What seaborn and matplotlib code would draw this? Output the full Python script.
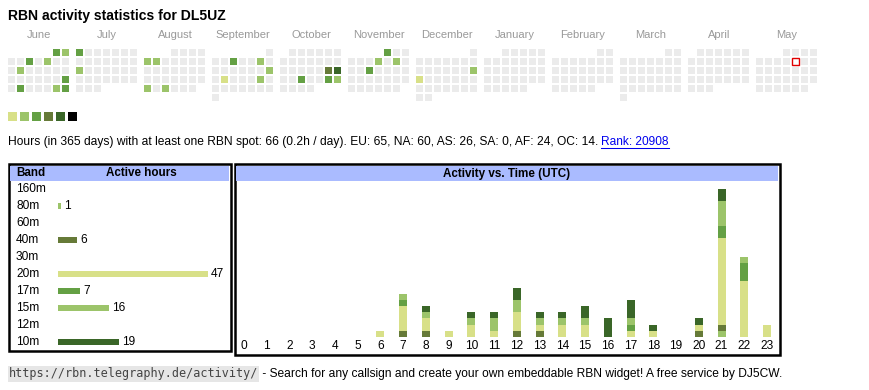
import datetime as dt

import matplotlib
matplotlib.use("Agg")
import matplotlib.pyplot as plt
from matplotlib.colors import ListedColormap
from matplotlib.patches import Rectangle
import numpy as np
import pandas as pd
import seaborn as sns

plt.rcParams["font.family"] = ["Liberation Sans", "DejaVu Sans"]

W, H = 870, 390

# --- calendar data ---
months = ["June", "July", "August", "September", "October", "November",
          "December", "January", "February", "March", "April", "May"]
month_starts = ["2024-06-01", "2024-07-01", "2024-08-01", "2024-09-01",
                "2024-10-01", "2024-11-01", "2024-12-01", "2025-01-01",
                "2025-02-01", "2025-03-01", "2025-04-01", "2025-05-01"]
active_days = ["2024-06-01", "2024-06-02", "2024-06-05", "2024-06-07",
               "2024-06-11", "2024-06-23", "2024-06-25", "2024-06-29",
               "2024-06-30", "2024-07-01", "2024-07-15", "2024-08-05",
               "2024-08-06", "2024-08-26", "2024-08-28", "2024-09-04",
               "2024-09-07", "2024-09-15", "2024-09-17", "2024-09-21",
               "2024-10-19", "2024-10-20", "2024-10-23", "2024-10-26",
               "2024-10-27", "2024-11-01", "2024-11-07", "2024-11-09",
               "2024-11-13", "2024-12-15", "2024-12-16"]
active_levels = [3, 2, 3, 2, 2, 3, 3, 2, 3,
                 3, 2,
                 2, 2, 2, 2,
                 3, 2, 2, 1, 2,
                 4, 5, 3, 3, 2,
                 3, 2, 2, 3,
                 2, 1]
today = "2025-05-09"

# --- band data ---
bands = ["160m", "80m", "60m", "40m", "30m", "20m", "17m", "15m", "12m", "10m"]
band_hours = [0, 1, 0, 6, 0, 47, 7, 16, 0, 19]

hours = list(range(24))
hourly_80m = [0, 0, 0, 0, 0, 0, 0, 0, 0, 0, 0, 0, 0, 0, 0, 0, 0, 0, 0, 0, 0, 1, 0, 0]
hourly_40m = [0, 0, 0, 0, 0, 0, 0, 1, 1, 0, 0, 0, 1, 1, 0, 0, 0, 0, 0, 0, 1, 1, 0, 0]
hourly_20m = [0, 0, 0, 0, 0, 0, 1, 4, 2, 1, 2, 1, 3, 1, 2, 2, 0, 1, 1, 0, 1, 14, 9, 2]
hourly_17m = [0, 0, 0, 0, 0, 0, 0, 1, 0, 0, 0, 0, 0, 0, 0, 0, 0, 1, 0, 0, 0, 2, 3, 0]
hourly_15m = [0, 0, 0, 0, 0, 0, 0, 1, 1, 0, 1, 2, 2, 1, 1, 1, 0, 1, 0, 0, 0, 4, 1, 0]
hourly_10m = [0, 0, 0, 0, 0, 0, 0, 0, 1, 0, 1, 1, 2, 1, 1, 2, 3, 3, 1, 0, 1, 2, 0, 0]

# --- colours ---
GRAY = "#ebebeb"
YELLOW = "#d8e088"
LGREEN = "#9cc46a"
GREEN = "#64a044"
OLIVE = "#667a38"
DGREEN = "#3a6628"
level_colors = [YELLOW, LGREEN, GREEN, OLIVE, DGREEN, "#000000"]
band_palette = {"160m": GRAY, "80m": LGREEN, "60m": GRAY, "40m": OLIVE,
                "30m": GRAY, "20m": YELLOW, "17m": GREEN, "15m": LGREEN,
                "12m": GRAY, "10m": DGREEN}
HEAD_BLUE = "#aabbff"

fig = plt.figure(figsize=(W / 100, H / 100), dpi=100)


def px_axes(x, y, w, h):
    return fig.add_axes([x / W, 1 - (y + h) / H, w / W, h / H])


over = fig.add_axes([0, 0, 1, 1])
over.set_xlim(0, W)
over.set_ylim(H, 0)
over.axis("off")

over.text(8, 16, "RBN activity statistics for DL5UZ", fontsize=10.1,
          fontweight="bold", va="center")

# --- calendar heatmaps ---
level_by_day = dict(zip(active_days, active_levels))
cal_cmap = ListedColormap([GRAY] + level_colors)


def month_grid(start):
    first = dt.date.fromisoformat(start)
    nxt = (first.replace(day=28) + dt.timedelta(days=4)).replace(day=1)
    grid = np.full((6, 7), np.nan)
    d = first
    while d < nxt:
        row = (d.day - 1 + first.weekday()) // 7
        grid[row, d.weekday()] = level_by_day.get(d.isoformat(), 0)
        d += dt.timedelta(days=1)
    return grid


today_d = dt.date.fromisoformat(today)
for i, (name, start) in enumerate(zip(months, month_starts)):
    x0 = 8 + 68 * i
    ax = px_axes(x0 - 1, 47.7, 63, 54)
    grid = month_grid(start)
    sns.heatmap(grid, ax=ax, cmap=cal_cmap, vmin=-0.5, vmax=6.5, cbar=False,
                mask=np.isnan(grid), linewidths=1.44, linecolor="white",
                xticklabels=False, yticklabels=False)
    first = dt.date.fromisoformat(start)
    if (today_d.year, today_d.month) == (first.year, first.month):
        r = (today_d.day - 1 + first.weekday()) // 7
        c = today_d.weekday()
        ax.add_patch(Rectangle((c + 0.13, r + 0.13), 0.74, 0.74,
                               facecolor="white", edgecolor="#e00000", lw=1.0))
    over.text(x0 + 31, 34.5, name, color="#999999", fontsize=8, ha="center",
              va="center")

# legend squares
ax_leg = px_axes(6.5, 109.5, 72, 12)
sns.heatmap([[1, 2, 3, 4, 5, 6]], ax=ax_leg, cmap=cal_cmap, vmin=-0.5,
            vmax=6.5, cbar=False, linewidths=2.16, linecolor="white",
            xticklabels=False, yticklabels=False)

# --- summary line ---
summary = ("Hours (in 365 days) with at least one RBN spot: 66 (0.2h / day). "
           "EU: 65, NA: 60, AS: 26, SA: 0, AF: 24, OC: 14.")
t_sum = over.text(8, 142, summary, fontsize=8.65, va="center")

# --- panels ---
for (x, y, w, h) in [(9.25, 164.25, 221.5, 186.5), (235.25, 164.25, 544.5, 190.5)]:
    over.add_patch(Rectangle((x, y), w, h, fill=False, edgecolor="black", lw=1.8))
over.add_patch(Rectangle((10.5, 165.5), 219, 15.5, facecolor=HEAD_BLUE, lw=0))
over.add_patch(Rectangle((236.5, 165.5), 542, 15.5, facecolor=HEAD_BLUE, lw=0))
over.text(16, 173.5, "Band", fontsize=8.4, fontweight="bold", va="center")
over.text(141.5, 173.5, "Active hours", fontsize=8.4, fontweight="bold",
          va="center", ha="center")
over.text(507, 173.5, "Activity vs. Time (UTC)", fontsize=8.4,
          fontweight="bold", va="center", ha="center")

# band bars
ax_b = px_axes(58, 180.5, 160, 170)
sns.barplot(x=band_hours, y=bands, hue=bands, palette=band_palette,
            orient="h", width=0.41, saturation=1, legend=False, ax=ax_b)
ax_b.set_xlim(0, 160 / 3.19)
ax_b.set_ylim(9.5, -0.5)
ax_b.axis("off")
for i, (band, val) in enumerate(zip(bands, band_hours)):
    ax_b.text(-42 / 3.19, i, band, fontsize=8.6, va="center", ha="left")
for cont, val in zip(ax_b.containers, band_hours):
    if val:
        ax_b.bar_label(cont, labels=[str(val)], padding=2.2, fontsize=8.6)

# stacked activity vs time
hourly = {"80m": hourly_80m, "40m": hourly_40m, "20m": hourly_20m,
          "17m": hourly_17m, "15m": hourly_15m, "10m": hourly_10m}
rows = []
for band, counts in hourly.items():
    for h, c in zip(hours, counts):
        if c:
            rows.append((h, band, c))
df = pd.DataFrame(rows, columns=["hour", "band", "spots"])
stack_order = ["10m", "15m", "17m", "20m", "40m", "80m"]

ax_t = px_axes(232.6, 181, 545.8, 156)
sns.histplot(data=df, x="hour", weights="spots", hue="band",
             hue_order=stack_order, palette=band_palette, multiple="stack",
             discrete=True, shrink=0.35, linewidth=0, alpha=1, legend=False,
             ax=ax_t)
ax_t.set_xlim(-0.5, 23.5)
ax_t.set_ylim(0, 156 / 6.17)
ax_t.set_xticks(hours)
ax_t.set_xticklabels([str(h) for h in hours], fontsize=8.6)
ax_t.tick_params(axis="x", length=0, pad=2)
ax_t.set_yticks([])
ax_t.set_xlabel("")
ax_t.set_ylabel("")
ax_t.patch.set_alpha(0)
for s in ax_t.spines.values():
    s.set_visible(False)

# --- footer ---
t_url = over.text(9, 374, "https://rbn.telegraphy.de/activity/",
                  family="DejaVu Sans Mono", fontsize=8.5, va="center",
                  color="#444444",
                  bbox=dict(facecolor="#e6e6e6", edgecolor="none", pad=0.8))

fig.canvas.draw()
rend = fig.canvas.get_renderer()
x_end = t_sum.get_window_extent(rend).x1
rank_x = max(600, x_end + 3)
t_rank = over.text(rank_x, 142, "Rank: 20908", fontsize=8.6, va="center",
                   color="#0000ee")
rank_w = t_rank.get_window_extent(rend).width
over.plot([rank_x, rank_x + rank_w], [147.5, 147.5], color="#0000ee", lw=0.75)

url_end = t_url.get_window_extent(rend).x1
over.text(url_end + 1, 374,
          " - Search for any callsign and create your own embeddable RBN "
          "widget! A free service by DJ5CW.", fontsize=8.65, va="center")

fig.savefig("out.png", dpi=100)
plt.close(fig)
